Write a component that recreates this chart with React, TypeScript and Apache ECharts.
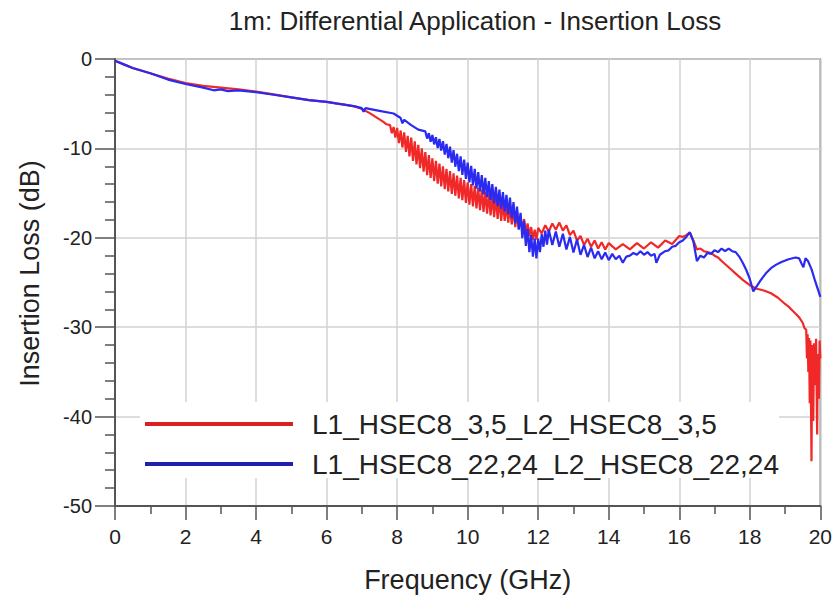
import React, { useEffect, useRef } from "react";
import * as echarts from "echarts";

const TITLE = "1m: Differential Application - Insertion Loss";
const X_NAME = "Frequency (GHz)";
const Y_NAME = "Insertion Loss (dB)";
const SERIES_NAMES = ["L1_HSEC8_3,5_L2_HSEC8_3,5", "L1_HSEC8_22,24_L2_HSEC8_22,24"];
const X_TICKS = [0, 2, 4, 6, 8, 10, 12, 14, 16, 18, 20];
const Y_TICKS = [-50, -40, -30, -20, -10, 0];

// [frequency GHz, insertion loss dB]
const redData: [number, number][] = [
  [0, -0.2], [0.25, -0.6], [0.5, -1.0], [1.0, -1.6], [1.5, -2.2], [2.0, -2.7], [2.5, -3.0],
  [3.0, -3.2], [3.5, -3.4], [4.0, -3.65], [4.5, -3.95], [5.0, -4.3], [5.5, -4.6], [6.0, -4.8],
  [6.5, -5.1], [6.8, -5.3], [7.0, -5.6], [7.2, -6.0], [7.4, -6.5], [7.6, -7.0], [7.7, -7.3],
  [7.8, -7.4], [7.85, -8.3], [7.9, -7.6], [7.95, -8.8], [8.0, -7.7], [8.05, -9.4], [8.1, -8.0],
  [8.15, -9.9], [8.2, -8.2], [8.25, -10.4], [8.3, -8.6], [8.35, -10.9], [8.4, -8.8], [8.45, -11.4],
  [8.5, -9.2], [8.55, -11.8], [8.6, -9.6], [8.65, -12.2], [8.7, -10.0], [8.75, -12.6], [8.8, -10.4],
  [8.85, -13.0], [8.9, -10.75], [8.95, -13.3], [9.0, -11.1], [9.05, -13.65], [9.1, -11.4],
  [9.15, -13.95], [9.2, -11.7], [9.25, -14.25], [9.3, -12.0], [9.35, -14.55], [9.4, -12.3],
  [9.45, -14.8], [9.5, -12.55], [9.55, -15.1], [9.6, -12.8], [9.65, -15.3], [9.7, -13.05],
  [9.75, -15.6], [9.8, -13.3], [9.85, -15.8], [9.9, -13.55], [9.95, -16.1], [10.0, -13.8],
  [10.05, -16.3], [10.1, -14.0], [10.15, -16.5], [10.2, -14.2], [10.25, -16.7], [10.3, -14.4],
  [10.35, -16.9], [10.4, -14.6], [10.45, -17.1], [10.5, -14.8], [10.55, -17.3], [10.6, -15.0],
  [10.65, -17.5], [10.7, -15.2], [10.75, -17.7], [10.8, -15.4], [10.85, -17.9], [10.9, -15.6],
  [10.95, -18.1], [11.0, -16.0], [11.05, -18.1], [11.1, -16.2], [11.15, -18.3], [11.2, -16.4],
  [11.25, -18.5], [11.3, -16.7], [11.35, -18.8], [11.4, -17.0], [11.45, -19.0], [11.5, -17.5],
  [11.55, -19.2], [11.6, -17.9], [11.65, -19.5], [11.7, -18.4], [11.75, -19.8], [11.8, -18.8],
  [11.85, -20.2], [11.9, -19.1], [11.95, -20.2], [12.0, -18.9], [12.1, -19.5], [12.2, -18.6],
  [12.3, -19.3], [12.4, -18.4], [12.5, -19.1], [12.6, -18.3], [12.7, -19.2], [12.8, -18.6],
  [12.9, -19.7], [13.0, -19.2], [13.1, -20.3], [13.2, -19.8], [13.3, -20.8], [13.4, -20.1],
  [13.5, -21.0], [13.6, -20.3], [13.7, -21.2], [13.8, -20.5], [13.9, -21.3], [14.0, -20.6],
  [14.2, -21.3], [14.4, -20.7], [14.6, -21.3], [14.8, -20.6], [15.0, -21.2], [15.2, -20.5],
  [15.4, -21.1], [15.6, -20.3], [15.8, -20.7], [16.0, -19.8], [16.1, -19.9], [16.2, -19.7],
  [16.3, -19.4], [16.4, -20.3], [16.5, -21.3], [16.6, -21.2], [16.7, -21.5], [16.8, -21.6],
  [16.9, -21.7], [17.0, -22.0], [17.1, -22.2], [17.2, -22.6], [17.4, -23.3], [17.6, -24.0],
  [17.8, -24.7], [18.0, -25.3], [18.2, -25.7], [18.4, -25.9], [18.6, -26.2], [18.8, -26.7],
  [19.0, -27.4], [19.1, -27.7], [19.2, -28.1], [19.3, -28.5], [19.4, -28.9], [19.5, -29.5],
  [19.55, -30.1], [19.6, -30.3], [19.62, -33.5], [19.64, -30.8], [19.66, -35.0], [19.68, -31.2],
  [19.7, -38.5], [19.72, -31.5], [19.75, -45.0], [19.77, -32.0], [19.8, -40.5], [19.82, -31.8],
  [19.85, -36.5], [19.88, -31.3], [19.91, -42.0], [19.93, -33.0], [19.96, -38.0], [19.98, -31.5],
  [20.0, -33.5],
];

const blueData: [number, number][] = [
  [0, -0.2], [0.25, -0.6], [0.5, -1.0], [1.0, -1.6], [1.5, -2.3], [2.0, -2.8], [2.5, -3.2],
  [2.8, -3.5], [3.0, -3.4], [3.2, -3.6], [3.5, -3.5], [4.0, -3.7], [4.5, -4.0], [5.0, -4.3],
  [5.5, -4.6], [6.0, -4.8], [6.3, -5.0], [6.5, -5.1], [6.8, -5.3], [7.0, -5.5], [7.05, -5.9],
  [7.1, -5.5], [7.5, -5.8], [7.9, -6.1], [8.1, -6.6], [8.15, -7.2], [8.2, -6.8], [8.4, -7.4],
  [8.6, -7.9], [8.8, -8.1], [8.85, -8.9], [8.9, -8.3], [8.95, -9.25], [9.0, -8.5], [9.05, -9.55],
  [9.1, -8.75], [9.15, -9.95], [9.2, -8.95], [9.25, -10.25], [9.3, -9.2], [9.35, -10.7], [9.4, -9.5],
  [9.45, -11.1], [9.5, -9.8], [9.55, -11.6], [9.6, -10.2], [9.65, -12.05], [9.7, -10.6],
  [9.75, -12.55], [9.8, -10.9], [9.85, -12.95], [9.9, -11.25], [9.95, -13.4], [10.0, -11.6],
  [10.05, -13.8], [10.1, -11.95], [10.15, -14.15], [10.2, -12.3], [10.25, -14.5], [10.3, -12.65],
  [10.35, -14.8], [10.4, -13.0], [10.45, -15.15], [10.5, -13.3], [10.55, -15.45], [10.6, -13.65],
  [10.65, -15.8], [10.7, -14.0], [10.75, -16.15], [10.8, -14.3], [10.85, -16.45], [10.9, -14.6],
  [10.95, -16.75], [11.0, -14.9], [11.05, -17.05], [11.1, -15.2], [11.15, -17.35], [11.2, -15.5],
  [11.25, -17.8], [11.3, -16.0], [11.35, -18.4], [11.4, -16.5], [11.45, -19.1], [11.5, -17.2],
  [11.55, -20.05], [11.6, -18.1], [11.65, -20.9], [11.7, -19.0], [11.75, -21.6], [11.8, -19.7],
  [11.85, -22.1], [11.9, -20.1], [11.95, -22.3], [12.0, -20.1], [12.05, -21.6], [12.1, -19.6],
  [12.15, -21.0], [12.2, -19.2], [12.25, -20.75], [12.3, -19.1], [12.4, -20.8], [12.5, -19.3],
  [12.6, -21.0], [12.7, -19.55], [12.8, -21.3], [12.9, -19.9], [13.0, -21.65], [13.1, -20.2],
  [13.2, -21.9], [13.3, -20.8], [13.4, -22.15], [13.5, -21.1], [13.6, -22.3], [13.7, -21.5],
  [13.8, -22.4], [13.9, -21.65], [14.0, -22.5], [14.1, -21.8], [14.2, -22.4], [14.3, -22.0],
  [14.4, -22.8], [14.5, -22.1], [14.6, -22.0], [14.7, -21.7], [14.8, -21.9], [14.9, -21.5],
  [15.0, -21.9], [15.1, -21.6], [15.2, -22.0], [15.3, -21.8], [15.35, -22.8], [15.45, -21.9],
  [15.6, -21.5], [15.7, -21.4], [15.8, -21.0], [15.9, -20.9], [16.0, -20.5], [16.1, -20.3],
  [16.2, -19.9], [16.3, -19.4], [16.4, -20.4], [16.5, -22.6], [16.6, -22.0], [16.7, -22.2],
  [16.8, -21.7], [16.9, -21.8], [17.0, -21.4], [17.1, -21.6], [17.2, -21.2], [17.3, -21.5],
  [17.4, -21.2], [17.5, -21.5], [17.6, -21.6], [17.7, -22.1], [17.8, -22.8], [17.9, -23.6],
  [18.0, -24.6], [18.1, -26.0], [18.2, -25.4], [18.3, -24.8], [18.45, -24.0], [18.6, -23.4],
  [18.75, -23.0], [18.9, -22.7], [19.1, -22.4], [19.3, -22.2], [19.4, -22.3], [19.47, -22.9],
  [19.52, -23.3], [19.58, -22.3], [19.65, -22.6], [19.75, -23.5], [19.85, -24.8], [19.95, -26.0],
  [20.0, -26.6],
];

const RED = "#f02828";
const BLUE = "#2a2af0";
const FONT = "'Liberation Sans', Arial, Helvetica, sans-serif";

export default function App() {
  const ref = useRef<HTMLDivElement>(null);
  useEffect(() => {
    if (!ref.current) return;
    const chart = echarts.init(ref.current, null, { renderer: "svg" });
    const axisCommon = {
      type: "value" as const,
      nameLocation: "middle" as const,
      axisLine: { show: true, onZero: false, lineStyle: { color: "#555", width: 2 } },
      splitLine: { show: true, lineStyle: { color: "#d2d2d2", width: 1.5 } },
    };
    chart.setOption({
      animation: false,
      backgroundColor: "#ffffff",
      textStyle: { fontFamily: FONT },
      title: {
        text: TITLE,
        left: 470,
        top: 3,
        textAlign: "center",
        textStyle: { fontSize: 26, fontWeight: "normal", color: "#222", fontFamily: FONT },
      },
      grid: {
        left: 115,
        top: 59,
        right: 14,
        bottom: 96,
        show: true,
        borderColor: "#777",
        borderWidth: 1.5,
        backgroundColor: "transparent",
      },
      legend: {
        orient: "vertical",
        left: 140,
        top: 402,
        backgroundColor: "#ffffff",
        padding: [8, 0, 0, 5],
        itemGap: 12,
        itemWidth: 148,
        itemHeight: 4,
        icon: "rect",
        selectedMode: false,
        textStyle: { fontSize: 28, lineHeight: 28, color: "#222", fontFamily: FONT, padding: [0, 0, 0, 14] },
        data: [
          { name: SERIES_NAMES[0], itemStyle: { color: "#d82222" } },
          { name: SERIES_NAMES[1], itemStyle: { color: "#1f1fb0" } },
        ],
      },
      xAxis: {
        ...axisCommon,
        name: X_NAME,
        nameGap: 60,
        nameTextStyle: { fontSize: 27, color: "#222", fontFamily: FONT },
        min: X_TICKS[0],
        max: X_TICKS[X_TICKS.length - 1],
        interval: X_TICKS[1] - X_TICKS[0],
        axisTick: { show: true, inside: false, length: 14, lineStyle: { color: "#555", width: 1.5 } },
        minorTick: { show: true, splitNumber: 2, length: 8, lineStyle: { color: "#555", width: 1.5 } },
        axisLabel: { fontSize: 21, color: "#222", margin: 20, fontFamily: FONT },
      },
      yAxis: {
        ...axisCommon,
        name: Y_NAME,
        nameGap: 72,
        nameTextStyle: { fontSize: 27, color: "#222", fontFamily: FONT, padding: [0, 0, 0, 18] },
        min: Y_TICKS[0],
        max: Y_TICKS[Y_TICKS.length - 1],
        interval: Y_TICKS[1] - Y_TICKS[0],
        axisTick: { show: true, inside: false, length: 20, lineStyle: { color: "#555", width: 1.5 } },
        minorTick: { show: true, splitNumber: 5, length: 10, lineStyle: { color: "#555", width: 1.5 } },
        axisLabel: { fontSize: 20, color: "#222", margin: 23, fontFamily: FONT },
      },
      series: [
        {
          name: SERIES_NAMES[0],
          type: "line",
          data: redData,
          showSymbol: false,
          symbol: "none",
          color: RED,
          lineStyle: { color: RED, width: 2.2 },
          z: 2,
        },
        {
          name: SERIES_NAMES[1],
          type: "line",
          data: blueData,
          showSymbol: false,
          symbol: "none",
          color: BLUE,
          lineStyle: { color: BLUE, width: 2.2 },
          z: 3,
        },
      ],
    });
    return () => chart.dispose();
  }, []);
  return (
    <div
      ref={ref}
      style={{ position: "fixed", left: 0, top: 0, width: 835, height: 602, background: "#fff" }}
    />
  );
}
